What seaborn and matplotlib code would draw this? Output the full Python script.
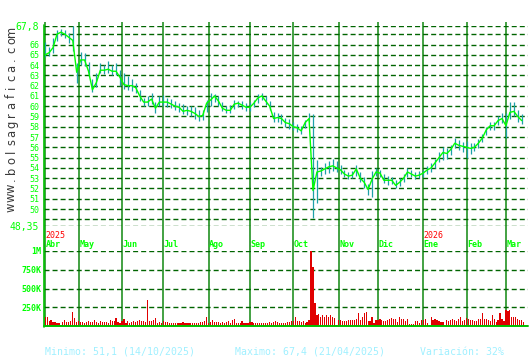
import numpy as np
import pandas as pd
import matplotlib
matplotlib.use('Agg')
import matplotlib.pyplot as plt
import matplotlib.transforms as mtransforms
from matplotlib.lines import Line2D
import seaborn as sns

# ---------------- data ----------------
START = '2025-04-08'
N_DAYS = 244
PRICE_STEP = 2   # one price sample every 2 trading days
month_names = ['Abr', 'May', 'Jun', 'Jul', 'Ago', 'Sep', 'Oct', 'Nov', 'Dic', 'Ene', 'Feb', 'Mar']
year_labels = {'Abr': '2025', 'Ene': '2026'}

close = [
    65.0, 65.2, 65.7, 67.0, 67.2, 67.0, 66.7, 66.4, 63.3, 64.5,
    64.5, 63.4, 61.6, 62.3, 63.5, 63.5, 63.6, 63.4, 63.4, 62.8,
    62.1, 62.0, 62.0, 61.8, 61.0, 60.4, 60.4, 60.7, 59.8, 60.4,
    60.4, 60.4, 60.2, 60.0, 59.9, 59.5, 59.6, 59.5, 59.3, 59.0,
    59.1, 60.3, 60.6, 61.0, 60.5, 59.8, 59.6, 59.6, 60.2, 60.3,
    60.1, 59.9, 59.9, 60.3, 60.8, 61.0, 60.5, 60.0, 58.8, 58.9,
    58.8, 58.4, 58.3, 58.0, 57.9, 57.6, 58.4, 58.8, 51.8, 53.6,
    53.7, 53.9, 54.1, 54.2, 54.0, 53.8, 53.4, 53.2, 53.3, 53.9,
    53.0, 52.6, 51.9, 52.9, 53.6, 53.5, 52.8, 52.8, 52.8, 52.3,
    52.6, 53.0, 53.6, 53.4, 53.2, 53.3, 53.5, 53.8, 54.0, 54.5,
    55.0, 55.5, 55.4, 55.8, 56.4, 56.2, 56.1, 56.0, 55.9, 56.0,
    56.4, 56.9, 57.7, 58.1, 58.1, 58.6, 58.8, 58.1, 59.4, 59.5,
    59.0, 58.6]
high = [
    66.2, 65.8, 66.6, 67.4, 67.5, 67.4, 67.1, 67.8, 64.2, 65.3,
    65.2, 64.3, 62.6, 63.2, 64.2, 64.0, 64.4, 64.0, 64.2, 63.5,
    63.2, 62.9, 62.6, 62.3, 61.6, 60.8, 61.0, 61.3, 60.4, 61.0,
    61.1, 60.8, 60.7, 60.5, 60.3, 60.2, 60.0, 60.0, 59.9, 59.6,
    59.6, 60.6, 61.3, 61.2, 61.0, 60.4, 60.0, 60.1, 60.6, 60.5,
    60.5, 60.3, 60.4, 60.6, 61.2, 61.3, 61.0, 60.5, 59.4, 59.3,
    59.2, 58.9, 58.8, 58.5, 58.3, 58.1, 58.7, 59.3, 59.2, 54.8,
    54.1, 54.5, 54.7, 54.9, 54.7, 54.3, 53.8, 53.6, 53.7, 54.3,
    53.6, 53.1, 52.4, 53.7, 54.0, 53.8, 53.4, 53.2, 53.1, 52.8,
    53.0, 53.4, 54.0, 53.8, 53.6, 53.7, 53.8, 54.2, 54.5, 54.9,
    55.5, 56.0, 55.9, 56.2, 56.9, 56.7, 56.5, 56.6, 56.4, 56.4,
    56.8, 57.3, 58.0, 58.5, 58.5, 59.0, 59.3, 59.3, 60.4, 60.4,
    59.6, 59.2]
low = [
    64.8, 64.9, 65.2, 66.3, 66.8, 66.6, 66.1, 65.4, 62.3, 64.0,
    63.9, 62.9, 61.4, 61.9, 63.2, 63.1, 63.2, 63.0, 63.0, 62.0,
    61.7, 61.6, 61.5, 61.3, 60.5, 60.0, 60.0, 60.2, 59.3, 60.0,
    60.0, 59.9, 59.8, 59.6, 59.4, 59.2, 59.1, 59.0, 58.8, 58.6,
    58.7, 59.4, 60.0, 60.4, 60.0, 59.5, 59.3, 59.3, 59.7, 59.9,
    59.7, 59.5, 59.5, 59.9, 60.3, 60.6, 60.1, 59.6, 58.5, 58.5,
    58.3, 58.0, 57.8, 57.7, 57.5, 57.3, 57.9, 58.5, 49.1, 50.6,
    53.2, 53.4, 53.5, 53.7, 53.6, 53.4, 53.1, 52.9, 53.0, 53.2,
    52.6, 52.0, 51.4, 51.2, 53.2, 53.1, 52.5, 52.3, 52.4, 52.0,
    52.2, 52.6, 53.1, 53.1, 52.9, 53.0, 53.1, 53.4, 53.6, 54.0,
    54.6, 54.8, 54.9, 55.3, 55.9, 55.7, 55.5, 55.0, 55.4, 55.6,
    55.9, 56.5, 57.2, 57.7, 57.7, 58.2, 58.4, 56.9, 58.8, 59.0,
    58.5, 58.3]

# daily volume, thousands of shares, month by month
vol_abr = [115, 115, 67, 80, 53, 53, 40, 40, 13, 49, 80, 53, 53, 62, 187, 107, 60]
vol_may = [62, 53, 53, 40, 58, 62, 53, 53, 80, 53, 36, 62, 53, 53, 53, 36, 80, 71, 71, 107, 60, 45]
vol_jun = [71, 89, 36, 62, 36, 53, 62, 53, 62, 80, 62, 62, 53, 347, 62, 62, 80, 107, 36, 53, 45]
vol_jul = [62, 53, 53, 36, 40, 40, 40, 36, 45, 36, 53, 45, 40, 36, 40, 40, 45, 45, 45, 53, 53, 62, 115]
vol_ago = [36, 53, 80, 53, 53, 53, 45, 53, 45, 53, 62, 40, 80, 89, 45, 40, 36, 62, 40, 40, 45]
vol_sep = [53, 53, 45, 45, 40, 40, 45, 40, 40, 45, 53, 45, 53, 62, 53, 45, 40, 40, 45, 53, 58, 62]
vol_oct = [62, 124, 62, 62, 53, 62, 45, 53, 80, 1000, 790, 311, 147, 160, 124, 147, 115, 147, 115, 147, 124, 102, 13]
vol_nov = [80, 80, 71, 71, 62, 80, 80, 80, 80, 93, 178, 80, 124, 178, 190, 71, 62, 115, 40, 80]
vol_dic = [80, 98, 80, 71, 71, 80, 89, 107, 89, 98, 53, 115, 98, 89, 71, 89, 27, 27, 27, 71, 71, 36, 80]
vol_ene = [80, 98, 36, 18, 115, 80, 98, 80, 71, 53, 53, 18, 80, 71, 80, 89, 80, 71, 98, 115, 71, 80]
vol_feb = [107, 89, 80, 80, 71, 71, 89, 89, 178, 98, 98, 80, 71, 151, 98, 53, 80, 178, 98, 71]
vol_mar = [213, 196, 213, 115, 115, 115, 98, 80, 80, 53]

price_ticks = [48.35] + list(range(49, 68)) + [67.8]
price_tick_labels = ['48,35', ''] + [str(v) for v in range(50, 67)] + ['', '67,8']
vol_ticks = [250000, 500000, 750000, 1000000]
vol_tick_labels = ['250K', '500K', '750K', '1M']

min_text = 'Minimo: 51,1 (14/10/2025)'
max_text = 'Maximo: 67,4 (21/04/2025)'
var_text = 'Variación: 32%'
site_text = 'www.bolsagrafica.com'

# ---------------- style ----------------
sns.set_style('white')
plt.rcParams['font.family'] = ['DejaVu Sans']

LIME = '#00ff00'
GRID_H = '#006400'
GRID_V = '#108810'
AXIS = '#00c000'
TEAL = '#1ea0a8'
RED = '#e00000'
MONO = 'DejaVu Sans Mono'
DASH = (0, (3.6, 2.2))

W, H = 530, 360
fig = plt.figure(figsize=(W / 100, H / 100), dpi=100, facecolor='white')


def fx(px):
    return px / W


def fy(py):
    return 1 - py / H


X0, X1 = 44, 528
XLIM = (-0.6, 245.2)

bg = fig.add_axes([fx(X0), fy(326), fx(X1) - fx(X0), fy(22) - fy(326)])
pax = fig.add_axes([fx(X0), fy(226), fx(X1) - fx(X0), fy(26) - fy(226)])
vax = fig.add_axes([fx(X0), fy(326), fx(X1) - fx(X0), fy(251) - fy(326)])
for a in (bg, pax, vax):
    a.set_xlim(*XLIM)
    a.set_facecolor('none')
    for s in a.spines.values():
        s.set_visible(False)
bg.set_ylim(0, 1)
bg.set_xticks([])
bg.set_yticks([])
bg.set_zorder(0)
pax.set_zorder(1)
vax.set_zorder(1)

dates = pd.bdate_range(START, periods=N_DAYS)
month_start = [i for i in range(N_DAYS) if i == 0 or dates[i].month != dates[i - 1].month]

# vertical month lines through both panels
for i in month_start:
    bg.axvline(i, color=GRID_V, lw=1.1, zorder=1)

# month and year labels
tr = mtransforms.blended_transform_factory(bg.transData, fig.transFigure)
for name, i in zip(month_names, month_start):
    bg.text(i + 0.3, fy(244.5), name, transform=tr, ha='left', va='center',
            color=LIME, fontsize=6, family=MONO, fontweight='bold', clip_on=False)
    if name in year_labels:
        bg.text(i + 0.3, fy(236), year_labels[name], transform=tr, ha='left', va='center',
                color='#ff0000', fontsize=6, family=MONO, clip_on=False)

# ---------------- price panel ----------------
pidx = np.arange(0, len(close) * PRICE_STEP, PRICE_STEP)
pax.vlines(pidx, low, high, color=TEAL, lw=0.9, zorder=2)
sns.lineplot(x=pidx, y=close, ax=pax, color=LIME, lw=1.0, zorder=3)
pax.set_ylim(48.35, 67.8)
pax.set_yticks(price_ticks)
pax.set_yticklabels(price_tick_labels)
pax.set_xticks([])
pax.set_xlabel('')
pax.set_ylabel('')
pax.grid(axis='y', color=GRID_H, linestyle=DASH, lw=1.0)
pax.grid(axis='x', visible=False)
pax.tick_params(axis='y', length=0, pad=3.5, labelcolor=LIME, labelsize=6)
for lab in pax.get_yticklabels():
    lab.set_family(MONO)
    if lab.get_text() in ('48,35', '67,8'):
        lab.set_fontsize(7)

# ---------------- volume panel ----------------
vol_k = (vol_abr + vol_may + vol_jun + vol_jul + vol_ago + vol_sep + vol_oct
         + vol_nov + vol_dic + vol_ene + vol_feb + vol_mar)
vidx = np.arange(len(vol_k))
vax.bar(vidx, np.array(vol_k) * 1000, width=0.6, color=RED, edgecolor='none',
        lw=0, antialiased=False, zorder=2)
vax.set_ylim(0, 1000000)
vax.set_yticks(vol_ticks)
vax.set_yticklabels(vol_tick_labels)
vax.set_xticks([])
vax.grid(axis='y', color=GRID_H, linestyle=DASH, lw=1.0)
vax.grid(axis='x', visible=False)
vax.tick_params(axis='y', length=0, pad=2, labelcolor=LIME, labelsize=6)
for lab in vax.get_yticklabels():
    lab.set_family(MONO)
    lab.set_fontweight('bold')

# axis lines
fig.add_artist(Line2D([fx(44), fx(44)], [fy(25), fy(326.5)], color=AXIS, lw=1.2))
fig.add_artist(Line2D([fx(44), fx(528)], [fy(326), fy(326)], color=AXIS, lw=1.4))

# vertical site name
for k, ch in enumerate(site_text):
    fig.text(fx(11.5), fy(207 - 9.23 * k), ch, rotation=90, ha='center', va='center',
             fontsize=8.3, color='#3a3a3a', family='DejaVu Sans')

# bottom summary
fig.text(fx(45), fy(352), min_text, color='#a0f0ff', fontsize=7.1, family=MONO, va='center')
fig.text(fx(235), fy(352), max_text, color='#a0f0ff', fontsize=7.1, family=MONO, va='center')
fig.text(fx(420), fy(352), var_text, color='#a0f0ff', fontsize=7.1, family=MONO, va='center')

fig.savefig('out.png', dpi=100, facecolor='white')
